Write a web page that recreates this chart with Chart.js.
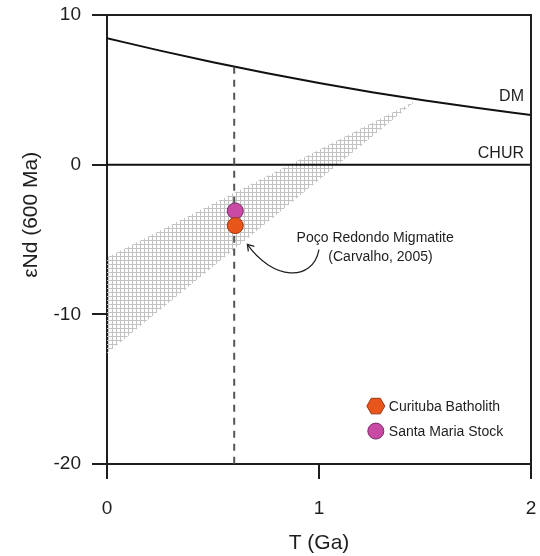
<!DOCTYPE html>
<html>
<head>
<meta charset="utf-8">
<script src="https://cdn.jsdelivr.net/npm/chart.js@4.4.1/dist/chart.umd.min.js"></script>
<style>
  html, body { margin: 0; padding: 0; background: #fff; }
</style>
</head>
<body>
<canvas id="chart" width="540" height="556"></canvas>
<script>
// depleted mantle evolution curve
const dmT = [0, 0.25, 0.5, 0.75, 1, 1.25, 1.5, 1.75, 2];
const dmEps = [8.45, 7.62, 6.84, 6.12, 5.45, 4.84, 4.28, 3.78, 3.32];
// chondritic reservoir
const churT = [0, 2];
const churEps = [0, 0];
// Poço Redondo migmatite field (hatched)
const bandT = [0, 1.46];
const bandUpper = [-6.2, 4.3];
const bandLower = [-12.6, 4.3];
// 600 Ma reference line
const refT = [0.6, 0.6];
const refEps = [6.55, -20];
// samples
const sampleNames = ['Curituba Batholith', 'Santa Maria Stock'];
const sampleT = [0.605, 0.605];
const sampleEps = [-4.07, -3.09];
const sampleFill = ['#e8561c', '#c84aa5'];
const sampleEdge = ['#9a3412', '#7a2a66'];
const xTicks = [0, 1, 2];
const yTicks = [-20, -10, 0, 10];

const INK = '#1e1e1e';
const FONT = 'Liberation Sans, Arial, sans-serif';

const pts = (xs, ys) => xs.map((x, i) => ({ x: x, y: ys[i] }));

const canvas = document.getElementById('chart');
const ctx = canvas.getContext('2d');

// light grey cross-hatch for the migmatite field
function hatchPattern() {
  const c = document.createElement('canvas');
  c.width = 4;
  c.height = 4;
  const g = c.getContext('2d');
  g.fillStyle = '#c2c2c2';
  g.fillRect(0, 0, 4, 1);
  g.fillRect(0, 0, 1, 4);
  return ctx.createPattern(c, 'repeat');
}

function drawHexagon(g, cx, cy, r, fill, edge) {
  g.beginPath();
  for (let i = 0; i < 6; i++) {
    const a = Math.PI / 3 * i;
    g.lineTo(cx + r * Math.cos(a), cy + r * Math.sin(a));
  }
  g.closePath();
  g.fillStyle = fill;
  g.fill();
  g.strokeStyle = edge;
  g.lineWidth = 1;
  g.stroke();
}

// fixed axis boxes, no extra label padding
function fixBox(size, prop) {
  return s => {
    s[prop] = size;
    s.paddingTop = s.paddingBottom = s.paddingLeft = s.paddingRight = 0;
  };
}

// top and right sides of the frame
const framePlugin = {
  id: 'frame',
  afterDatasetsDraw(chart) {
    const { ctx, chartArea: a } = chart;
    ctx.save();
    ctx.strokeStyle = INK;
    ctx.lineWidth = 2;
    ctx.beginPath();
    ctx.moveTo(a.left, a.top);
    ctx.lineTo(a.right, a.top);
    ctx.lineTo(a.right, a.bottom);
    ctx.stroke();
    ctx.restore();
  }
};

// curve labels, annotation with arrow, y title and the little legend
const notesPlugin = {
  id: 'notes',
  afterDatasetsDraw(chart) {
    const { ctx } = chart;
    const xs = chart.scales.x, ys = chart.scales.y;
    const px = v => xs.getPixelForValue(v);
    const py = v => ys.getPixelForValue(v);
    ctx.save();
    ctx.fillStyle = INK;
    ctx.textBaseline = 'middle';

    // y axis title sits a bit above the middle in the original
    ctx.save();
    ctx.translate(31, py(-3.35));
    ctx.rotate(-Math.PI / 2);
    ctx.font = '21px ' + FONT;
    ctx.textAlign = 'center';
    ctx.fillText('εNd (600 Ma)', 0, 0);
    ctx.restore();

    ctx.font = '16px ' + FONT;
    ctx.textAlign = 'right';
    ctx.fillText('DM', px(1.967), py(4.53));
    ctx.fillText('CHUR', px(1.967), py(0.73));

    ctx.font = '14px ' + FONT;
    ctx.textAlign = 'center';
    ctx.fillText('Poço Redondo Migmatite', px(1.265), py(-4.9));
    ctx.fillText('(Carvalho, 2005)', px(1.29), py(-6.15));

    // curved arrow
    const sx = px(1.0), sy = py(-5.67);
    const ex = px(0.662), ey = py(-5.33);
    ctx.strokeStyle = INK;
    ctx.lineWidth = 1.2;
    ctx.beginPath();
    ctx.moveTo(sx, sy);
    ctx.bezierCurveTo(px(0.97), py(-7.9), px(0.78), py(-7.7), ex, ey);
    ctx.stroke();
    ctx.beginPath();
    ctx.moveTo(ex + 1, ey + 7);
    ctx.lineTo(ex, ey);
    ctx.lineTo(ex + 7, ey + 2);
    ctx.stroke();

    // legend
    ctx.font = '14px ' + FONT;
    ctx.textAlign = 'left';
    const lx = px(1.268);
    const rows = [py(-16.13), py(-17.8)];
    drawHexagon(ctx, lx, rows[0], 9, sampleFill[0], sampleEdge[0]);
    ctx.beginPath();
    ctx.arc(lx, rows[1], 8, 0, Math.PI * 2);
    ctx.fillStyle = sampleFill[1];
    ctx.fill();
    ctx.strokeStyle = sampleEdge[1];
    ctx.lineWidth = 1;
    ctx.stroke();
    ctx.fillStyle = INK;
    sampleNames.forEach((name, i) => ctx.fillText(name, lx + 13, rows[i] + 1));
    ctx.restore();
  }
};

const axisGrid = { drawOnChartArea: false, drawTicks: true, tickLength: 15, color: INK, lineWidth: 2 };

new Chart(ctx, {
  type: 'line',
  data: {
    datasets: [
      {
        label: sampleNames[0],
        data: pts([sampleT[0]], [sampleEps[0]]),
        showLine: false,
        pointRadius: 8,
        pointBackgroundColor: sampleFill[0],
        pointBorderColor: sampleEdge[0],
        pointBorderWidth: 1,
        order: 0
      },
      {
        label: sampleNames[1],
        data: pts([sampleT[1]], [sampleEps[1]]),
        showLine: false,
        pointRadius: 8,
        pointBackgroundColor: sampleFill[1],
        pointBorderColor: sampleEdge[1],
        pointBorderWidth: 1,
        order: 1
      },
      {
        label: '600 Ma',
        data: pts(refT, refEps),
        borderColor: '#555',
        borderWidth: 2,
        borderDash: [7, 6],
        pointRadius: 0,
        order: 2
      },
      {
        label: 'DM',
        data: pts(dmT, dmEps),
        borderColor: '#111',
        borderWidth: 2,
        pointRadius: 0,
        cubicInterpolationMode: 'monotone',
        order: 3
      },
      {
        label: 'CHUR',
        data: pts(churT, churEps),
        borderColor: '#111',
        borderWidth: 2,
        pointRadius: 0,
        order: 3
      },
      {
        label: 'band upper',
        data: pts(bandT, bandUpper),
        borderWidth: 0,
        borderColor: 'rgba(0,0,0,0)',
        pointRadius: 0,
        fill: '+1',
        backgroundColor: hatchPattern(),
        order: 10
      },
      {
        label: 'band lower',
        data: pts(bandT, bandLower),
        borderWidth: 0,
        borderColor: 'rgba(0,0,0,0)',
        pointRadius: 0,
        fill: false,
        order: 11
      }
    ]
  },
  options: {
    responsive: false,
    animation: false,
    devicePixelRatio: 1,
    layout: { padding: { left: 0, right: 7, top: 15, bottom: 0 } },
    plugins: { legend: { display: false }, tooltip: { enabled: false } },
    scales: {
      x: {
        type: 'linear',
        min: 0,
        max: 2,
        afterBuildTicks: s => { s.ticks = xTicks.map(v => ({ value: v })); },
        afterFit: fixBox(92, 'height'),
        grid: axisGrid,
        border: { color: INK, width: 2 },
        ticks: { padding: 18, color: INK, font: { family: FONT, size: 19 } },
        title: { display: true, text: 'T (Ga)', color: INK, font: { family: FONT, size: 21 }, padding: { top: 0, bottom: 0 } }
      },
      y: {
        type: 'linear',
        min: -20,
        max: 10,
        afterBuildTicks: s => { s.ticks = yTicks.map(v => ({ value: v })); },
        afterFit: fixBox(107, 'width'),
        grid: axisGrid,
        border: { color: INK, width: 2 },
        ticks: { padding: 11, color: INK, font: { family: FONT, size: 19 } },
        title: { display: false }
      }
    }
  },
  plugins: [framePlugin, notesPlugin]
});
</script>
</body>
</html>
